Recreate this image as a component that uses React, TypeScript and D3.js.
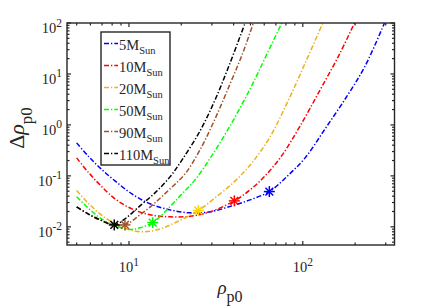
import * as d3 from "d3";
import { useEffect, useRef } from "react";

// legend entries, one per stellar mass
const massLabels = ["5", "10", "20", "50", "90", "110"];
const lineColors = ["#0000ff", "#ff0000", "#edb120", "#00ff00", "#a0522d", "#000000"];

// rho_p0 / delta rho_p0
const rho5 = [5.0, 5.81, 6.81, 8.31, 10.4, 13.21, 17.22, 22.45, 29.27, 39.17, 49.74, 64.22, 81.2, 103.1, 134.3, 179.9, 228.5, 295.1];
const delta5 = [0.444, 0.247, 0.1436, 0.0798, 0.0444, 0.0283, 0.0215, 0.0188, 0.0197, 0.0258, 0.0338, 0.0492, 0.0978, 0.2255, 0.835, 3.7, 14.4, 100];

const rho10 = [5.0, 5.81, 6.81, 8.31, 10.4, 13.21, 17.22, 22.45, 29.27, 40.38, 49.74, 60.67, 75.5, 96.5, 125.8, 163.9, 198.2];
const delta10 = [0.2255, 0.1198, 0.0667, 0.0354, 0.0225, 0.0172, 0.0157, 0.0161, 0.0197, 0.0323, 0.0531, 0.1, 0.2466, 0.956, 4.86, 25.8, 100];

const rho20 = [5.0, 5.81, 6.81, 8.31, 10.13, 12.36, 15.08, 18.4, 25.06, 31.27, 39.17, 46.55, 53.14, 64.81, 82.3, 104.5, 130.4];
const delta20 = [0.0515, 0.0296, 0.018, 0.0115, 0.0087, 0.008, 0.0091, 0.012, 0.0209, 0.0371, 0.0697, 0.1254, 0.2155, 0.582, 2.955, 18.0, 100];

const rho50 = [5.0, 5.81, 6.81, 8.31, 10.13, 11.57, 13.69, 16.12, 19.67, 23.99, 29.66, 38.14, 49.74, 60.67, 75.7];
const delta50 = [0.0388, 0.0236, 0.015, 0.0105, 0.0089, 0.0096, 0.0121, 0.0197, 0.0405, 0.0835, 0.236, 0.956, 5.08, 20.6, 100];

const rho90 = [5.0, 5.81, 6.81, 8.23, 9.48, 11.57, 14.11, 17.22, 21.01, 25.63, 31.27, 38.14, 44.73, 51.96];
const delta90 = [0.0247, 0.018, 0.0137, 0.0109, 0.0109, 0.0172, 0.0296, 0.0556, 0.1093, 0.3236, 1.311, 6.37, 23.6, 100];

const rho110 = [5.0, 5.81, 6.81, 8.23, 9.48, 11.57, 14.11, 17.22, 20.2, 25.63, 31.27, 38.14, 46.55];
const delta110 = [0.0247, 0.018, 0.0137, 0.0109, 0.01435, 0.0258, 0.0464, 0.0955, 0.206, 0.763, 3.09, 16.4, 100];

// asterisk markers
const starRho = [64.22, 40.38, 25.06, 13.69, 9.48, 8.23];
const starDelta = [0.0492, 0.0323, 0.0209, 0.0121, 0.0109, 0.0109];
const starColors = ["#0000ff", "#ff0000", "#ffd700", "#00ff00", "#a0522d", "#000000"];

const xMajor = [10, 100];
const yMajor = [0.01, 0.1, 1, 10, 100];

const FONT = "'Liberation Serif', 'Times New Roman', serif";
const AXIS = "#262626";
const DASH = "5,2,1.3,2";

export default function App() {
  const svgRef = useRef<SVGSVGElement>(null);

  useEffect(() => {
    if (!svgRef.current) return;
    const svg = d3.select(svgRef.current);
    svg.selectAll("*").remove();

    const left = 67;
    const right = 394.5;
    const top = 23;
    const bottom = 245;

    const x = d3.scaleLog().domain([4.4, 337]).range([left, right]);
    const y = d3.scaleLog().domain([0.0044, 100]).range([bottom, top]);

    const series = [
      { xs: rho5, ys: delta5 },
      { xs: rho10, ys: delta10 },
      { xs: rho20, ys: delta20 },
      { xs: rho50, ys: delta50 },
      { xs: rho90, ys: delta90 },
      { xs: rho110, ys: delta110 },
    ].map((s, i) => ({
      label: massLabels[i],
      color: lineColors[i],
      points: s.xs.map((v, j) => [v, s.ys[j]] as [number, number]),
    }));

    svg
      .append("defs")
      .append("clipPath")
      .attr("id", "plotclip")
      .append("rect")
      .attr("x", left)
      .attr("y", top)
      .attr("width", right - left)
      .attr("height", bottom - top);

    const line = d3
      .line<[number, number]>()
      .x((d) => x(d[0]))
      .y((d) => y(d[1]))
      .curve(d3.curveCatmullRom.alpha(0.5));

    const plot = svg.append("g").attr("clip-path", "url(#plotclip)");
    plot
      .selectAll("path.curve")
      .data(series)
      .join("path")
      .attr("class", "curve")
      .attr("d", (d) => line(d.points))
      .attr("fill", "none")
      .attr("stroke", (d) => d.color)
      .attr("stroke-width", 1.5)
      .attr("stroke-dasharray", DASH);

    // asterisks
    const stars = svg
      .append("g")
      .selectAll("g")
      .data(starRho.map((r, i) => ({ r, d: starDelta[i], c: starColors[i] })))
      .join("g")
      .attr("transform", (d) => `translate(${x(d.r)},${y(d.d)})`);
    [0, 45, 90, 135].forEach((a) => {
      const rad = (a * Math.PI) / 180;
      const rr = 5.5;
      stars
        .append("line")
        .attr("x1", -rr * Math.cos(rad))
        .attr("y1", -rr * Math.sin(rad))
        .attr("x2", rr * Math.cos(rad))
        .attr("y2", rr * Math.sin(rad))
        .attr("stroke", (d) => d.c)
        .attr("stroke-width", 1.5);
    });

    // axes box and ticks
    const axes = svg.append("g");
    axes
      .append("rect")
      .attr("x", left)
      .attr("y", top)
      .attr("width", right - left)
      .attr("height", bottom - top)
      .attr("fill", "none")
      .attr("stroke", AXIS)
      .attr("stroke-width", 1.4);

    const isMajor = (v: number) => Math.abs(Math.log10(v) - Math.round(Math.log10(v))) < 1e-6;

    x.ticks().forEach((v) => {
      const len = isMajor(v) ? 4 : 2.5;
      const px = x(v);
      axes.append("line").attr("x1", px).attr("x2", px).attr("y1", bottom).attr("y2", bottom - len).attr("stroke", AXIS).attr("stroke-width", 1.2);
      axes.append("line").attr("x1", px).attr("x2", px).attr("y1", top).attr("y2", top + len).attr("stroke", AXIS).attr("stroke-width", 1.2);
    });
    y.ticks().forEach((v) => {
      const len = isMajor(v) ? 4 : 2.5;
      const py = y(v);
      axes.append("line").attr("x1", left).attr("x2", left + len).attr("y1", py).attr("y2", py).attr("stroke", AXIS).attr("stroke-width", 1.2);
      axes.append("line").attr("x1", right).attr("x2", right - len).attr("y1", py).attr("y2", py).attr("stroke", AXIS).attr("stroke-width", 1.2);
    });

    // tick labels
    xMajor.forEach((v) => {
      const t = axes
        .append("text")
        .attr("x", x(v))
        .attr("y", 272)
        .attr("text-anchor", "middle")
        .attr("font-family", FONT)
        .attr("font-size", 14.5)
        .attr("fill", AXIS);
      t.append("tspan").text("10");
      t.append("tspan").attr("dy", -6.5).attr("font-size", 11.5).text(String(Math.round(Math.log10(v))));
    });
    yMajor.forEach((v) => {
      const t = axes
        .append("text")
        .attr("x", 62)
        .attr("y", y(v) + 10)
        .attr("text-anchor", "end")
        .attr("font-family", FONT)
        .attr("font-size", 14.5)
        .attr("fill", AXIS);
      t.append("tspan").text("10");
      t.append("tspan").attr("dy", -6.5).attr("font-size", 11.5).text(String(Math.round(Math.log10(v))));
    });

    // axis titles
    const xt = svg
      .append("text")
      .attr("x", 230)
      .attr("y", 294)
      .attr("text-anchor", "middle")
      .attr("font-family", FONT)
      .attr("font-size", 19)
      .attr("fill", AXIS);
    xt.append("tspan").attr("font-style", "italic").text("ρ");
    xt.append("tspan").attr("dy", 8).attr("font-size", 16).text("p0");

    const yt = svg
      .append("text")
      .attr("transform", "translate(24,128) rotate(-90)")
      .attr("text-anchor", "middle")
      .attr("font-family", FONT)
      .attr("font-size", 22)
      .attr("fill", AXIS);
    yt.append("tspan").text("Δ");
    yt.append("tspan").attr("font-style", "italic").text("ρ");
    yt.append("tspan").attr("dy", 8).attr("font-size", 17).text("p0");

    // legend
    const lg = svg.append("g");
    lg.append("rect")
      .attr("x", 101)
      .attr("y", 32)
      .attr("width", 69)
      .attr("height", 133)
      .attr("fill", "#fff")
      .attr("stroke", AXIS)
      .attr("stroke-width", 1.4);
    series.forEach((s, i) => {
      const ly = 43.5 + i * 22;
      lg.append("line")
        .attr("x1", 104)
        .attr("x2", 118)
        .attr("y1", ly)
        .attr("y2", ly)
        .attr("stroke", s.color)
        .attr("stroke-width", 1.5)
        .attr("stroke-dasharray", DASH);
      const t = lg
        .append("text")
        .attr("x", 119)
        .attr("y", ly + 6.5)
        .attr("font-family", FONT)
        .attr("font-size", 14.5)
        .attr("fill", AXIS);
      t.append("tspan").text(`${s.label}M`);
      t.append("tspan").attr("dy", 4).attr("font-size", 10.5).text("Sun");
    });
  }, []);

  return (
    <svg
      ref={svgRef}
      width={436}
      height={308}
      style={{ position: "absolute", left: 0, top: 0, background: "#fff" }}
    />
  );
}
